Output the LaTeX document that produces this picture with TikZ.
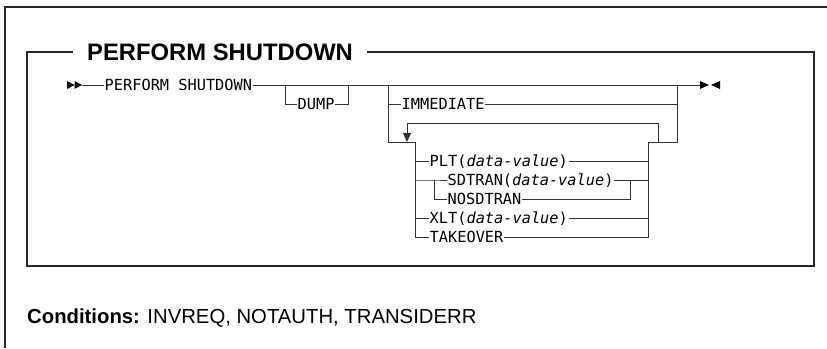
\documentclass[tikz,border=0pt]{standalone}
\usepackage{fontspec}
\setmainfont{Liberation Sans}
\newfontfamily\rrfont{DejaVu Sans Mono}
\usetikzlibrary{arrows.meta}
\tikzset{
  frame/.style={line width=1.6pt, draw=black!85},
  rail/.style={line width=0.9pt, draw=black!80},
  kw/.style={font=\rrfont\fontsize{15.3}{15}\selectfont, inner xsep=0.5pt, inner ysep=0pt,
    text height=11pt, text depth=0pt, anchor=west},
  ttlstyle/.style={font=\bfseries\fontsize{23.8}{24}\selectfont, inner sep=0pt, anchor=base west},
  condstyle/.style={font=\fontsize{20.3}{22}\selectfont, inner sep=0pt, anchor=base west},
  tip/.style={fill=black}
}
\begin{document}
\begin{tikzpicture}[x=1pt,y=-1pt]
\useasboundingbox (0,0) rectangle (827,348);
% outer frame
\coordinate (oTR) at (827,7);
\coordinate (oTL) at (5,7);
\coordinate (oBL) at (5,348);
\draw[frame] (oTR) -- (oTL) -- (oBL);
% inner box with heading
\node[ttlstyle] (ttl) at (87,60) {PERFORM SHUTDOWN};
\coordinate (iTa) at (73,52);
\coordinate (iTL) at (27,52);
\coordinate (iBL) at (27,266);
\coordinate (iBR) at (814,266);
\coordinate (iTR) at (814,52);
\coordinate (iTb) at (367,52);
\draw[frame] (iTa) -- (iTL) -- (iBL) -- (iBR) -- (iTR) -- (iTb);
% conditions
\node[condstyle] (cond) at (27,323) {\textbf{Conditions:} INVREQ, NOTAUTH, TRANSIDERR};

% ---- syntax diagram ----
% start marks
\coordinate (start) at (82,85);
\fill[tip] (67,81) -- (74.5,85) -- (67,89) -- cycle;
\fill[tip] (74.5,81) -- (82,85) -- (74.5,89) -- cycle;
\node[kw] (perf) at (104,85) {PERFORM SHUTDOWN};
\coordinate (endpt) at (700,85);
\draw[rail] (start) -- (perf.west);
\draw[rail] (perf.east) -- (endpt);
% end marks
\fill[tip] (700,81) -- (709,85) -- (700,89) -- cycle;
\fill[tip] (720,81) -- (711,85) -- (720,89) -- cycle;

% DUMP
\coordinate (d1) at (285,85);
\coordinate (d2) at (285,104);
\node[kw] (dump) at (297,104) {DUMP};
\coordinate (d3) at (348,104);
\coordinate (d4) at (348,85);
\draw[rail] (d1) -- (d2) -- (dump.west);
\draw[rail] (dump.east) -- (d3) -- (d4);

% IMMEDIATE / group
\coordinate (g1) at (388,85);
\coordinate (g2) at (388,104);
\coordinate (g3) at (388,142);
\coordinate (gin) at (415,142);
\node[kw] (imm) at (401,104) {IMMEDIATE};
\coordinate (h1) at (677,85);
\coordinate (h2) at (677,104);
\coordinate (h3) at (677,142);
\coordinate (gout) at (648,142);
\draw[rail] (g1) -- (g3) -- (gin);
\draw[rail] (g2) -- (imm.west);
\draw[rail] (imm.east) -- (h2);
\draw[rail] (h1) -- (h3) -- (gout);

% repeat loop
\coordinate (lpR) at (658,142);
\coordinate (lpRT) at (658,123);
\coordinate (lpLT) at (407,123);
\coordinate (lpL) at (407,142);
\draw[rail, -{Triangle[width=8pt,length=9pt]}] (lpR) -- (lpRT) -- (lpLT) -- (lpL);

% options
\coordinate (o5) at (415,161);
\coordinate (o6) at (415,180);
\coordinate (o8) at (415,218);
\coordinate (o9) at (415,237);
\coordinate (s6) at (434,180);
\coordinate (s7) at (434,199);
\coordinate (t6) at (630,180);
\coordinate (t7) at (630,199);
\coordinate (r5) at (648,161);
\coordinate (r6) at (648,180);
\coordinate (r8) at (648,218);
\coordinate (r9) at (648,237);
\node[kw] (plt) at (429,161) {PLT(\textit{data-value})};
\node[kw] (sdt) at (447,180) {SDTRAN(\textit{data-value})};
\node[kw] (nosd) at (447,199) {NOSDTRAN};
\node[kw] (xlt) at (429,218) {XLT(\textit{data-value})};
\node[kw] (take) at (429,237) {TAKEOVER};
\draw[rail] (gin) -- (o9) -- (take.west);
\draw[rail] (o5) -- (plt.west);
\draw[rail] (o6) -- (s6) -- (sdt.west);
\draw[rail] (s6) -- (s7) -- (nosd.west);
\draw[rail] (o8) -- (xlt.west);
\draw[rail] (plt.east) -- (r5);
\draw[rail] (sdt.east) -- (r6);
\draw[rail] (nosd.east) -- (t7) -- (t6);
\draw[rail] (xlt.east) -- (r8);
\draw[rail] (take.east) -- (r9) -- (gout);
\end{tikzpicture}
\end{document}
